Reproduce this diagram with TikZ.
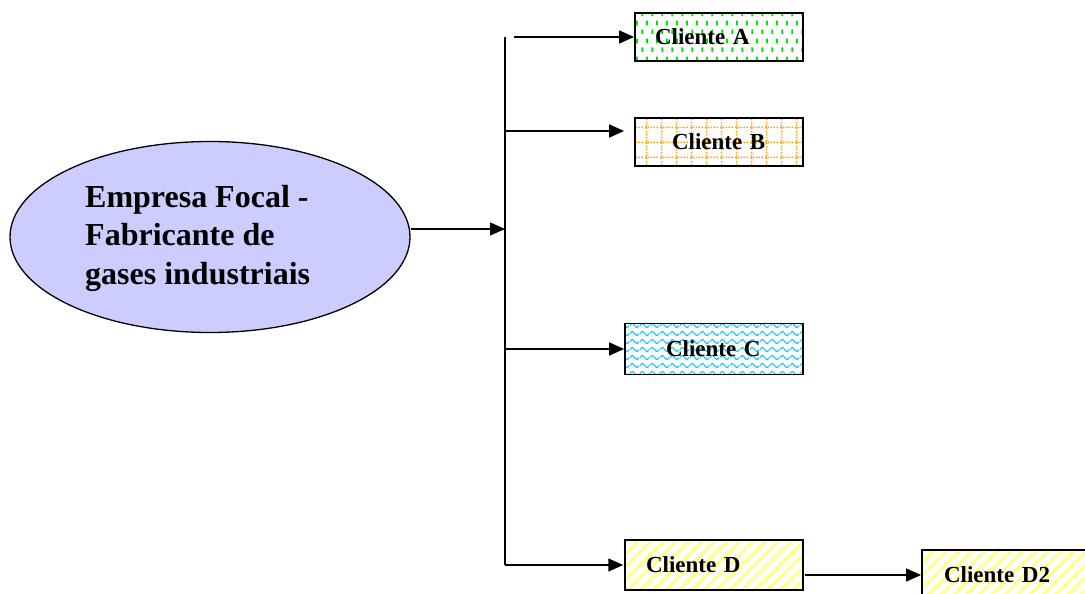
\documentclass[tikz,border=0pt]{standalone}
\usepackage{fontspec}
\setmainfont{Liberation Serif}
\usepackage{xcolor}
\usepackage{tikz}
\usetikzlibrary{arrows.meta, positioning, shapes.geometric, patterns, patterns.meta}

\definecolor{lavanda}{RGB}{204,204,255}
\definecolor{verdeA}{RGB}{0,230,0}
\definecolor{laranjaB}{RGB}{255,160,0}
\definecolor{azulC}{RGB}{20,200,255}
\definecolor{amareloD}{RGB}{255,255,150}

% padroes de preenchimento das caixas
\pgfdeclarepatternformonly{tracos}{\pgfqpoint{0pt}{0pt}}{\pgfqpoint{10pt}{18pt}}{\pgfqpoint{10pt}{18pt}}{
  \pgfsetlinewidth{2pt}
  \pgfpathmoveto{\pgfqpoint{2.5pt}{2pt}}\pgfpathlineto{\pgfqpoint{2.5pt}{7pt}}
  \pgfpathmoveto{\pgfqpoint{7.5pt}{11pt}}\pgfpathlineto{\pgfqpoint{7.5pt}{16pt}}
  \pgfusepath{stroke}}

\pgfdeclarepatternformonly{gradeponto}{\pgfqpoint{0pt}{0pt}}{\pgfqpoint{15pt}{15pt}}{\pgfqpoint{15pt}{15pt}}{
  \foreach \k in {0,3,6,9,12}{
    \pgfpathrectangle{\pgfqpoint{1pt}{\k pt}}{\pgfqpoint{1.6pt}{1.6pt}}
    \pgfpathrectangle{\pgfqpoint{\k pt}{1pt}}{\pgfqpoint{1.6pt}{1.6pt}}
  }
  \pgfusepath{fill}}

\pgfdeclarepatternformonly{ondas}{\pgfqpoint{0pt}{0pt}}{\pgfqpoint{10pt}{7.5pt}}{\pgfqpoint{10pt}{7.5pt}}{
  \pgfsetlinewidth{1.2pt}
  \pgfpathmoveto{\pgfqpoint{0pt}{3.7pt}}
  \pgfpathcurveto{\pgfqpoint{2.5pt}{6.5pt}}{\pgfqpoint{2.5pt}{6.5pt}}{\pgfqpoint{5pt}{3.7pt}}
  \pgfpathcurveto{\pgfqpoint{7.5pt}{0.9pt}}{\pgfqpoint{7.5pt}{0.9pt}}{\pgfqpoint{10pt}{3.7pt}}
  \pgfusepath{stroke}}

\begin{document}
\begin{tikzpicture}[
      x=1pt, y=-1pt,
      focal/.style={
          draw,
          ellipse,
          fill=lavanda,
          minimum width=400pt,
          minimum height=191pt,
          line width=1.3pt
      },
      focaltxt/.style={
          align=left,
          font=\fontsize{32}{38.5}\selectfont\bfseries,
          inner sep=0pt
      },
      cbox/.style 2 args={
          draw,
          line width=1.8pt,
          text width=#1,
          inner xsep=#2,
          inner ysep=0pt,
          align=left,
          font=\fontsize{23}{26}\selectfont\bfseries
      },
      arrow/.style={-{Triangle[length=15pt,width=13pt]}, line width=1.5pt}
  ]

  \clip (0,0) rectangle (1085,594);
  \useasboundingbox (0,0) rectangle (1085,594);

  % ══════════════════════════════
  % EMPRESA FOCAL
  % ══════════════════════════════
  \node[focal] (emp) at (210,237) {};
  \node[focaltxt, anchor=north west] (emptxt) at (85,185)
      {Empresa Focal -\\Fabricante de\\gases industriais};

  % ══════════════════════════════
  % CLIENTES
  % ══════════════════════════════
  \node[cbox={128pt}{20pt}, minimum height=48pt,
        pattern=tracos, pattern color=verdeA] (ca) at (719,37)
      {Cliente A};

  \node[cbox={94pt}{37pt}, minimum height=48pt,
        pattern=gradeponto, pattern color=laranjaB] (cb) at (719,142)
      {Cliente B};

  \node[cbox={96pt}{41pt}, minimum height=51pt,
        pattern=ondas, pattern color=azulC] (cc) at (714,349)
      {Cliente C};

  \node[cbox={136pt}{21pt}, minimum height=50pt,
        pattern={Lines[angle=45, distance=9pt, line width=3.5pt]},
        pattern color=amareloD] (cd) at (714,565)
      {Cliente D};

  \node[cbox={131pt}{22pt}, minimum height=50pt,
        pattern={Lines[angle=45, distance=9pt, line width=3.5pt]},
        pattern color=amareloD] (cd2) at (1009.5,575)
      {Cliente D2};

  % ══════════════════════════════
  % TRONCO E RAMOS
  % ══════════════════════════════
  \coordinate (topo) at (505,37);
  \coordinate (base) at (505,565);
  \coordinate (entra) at (505,229);
  \coordinate (inicioA) at (514,37);
  \coordinate (ramoB) at (505,131);

  \draw[line width=1.5pt] (topo) -- (base);

  \draw[arrow] (emp.east |- entra) -- (entra);

  \draw[arrow] (inicioA) -- (ca.west);

  \draw[arrow, shorten >=10pt] (ramoB) -- (cb.west |- ramoB);

  \draw[arrow] (topo |- cc.west) -- (cc.west);

  \draw[arrow] (base) -- (cd.west);

  \draw[arrow] (cd.east |- cd2.west) -- (cd2.west);

\end{tikzpicture}
\end{document}
